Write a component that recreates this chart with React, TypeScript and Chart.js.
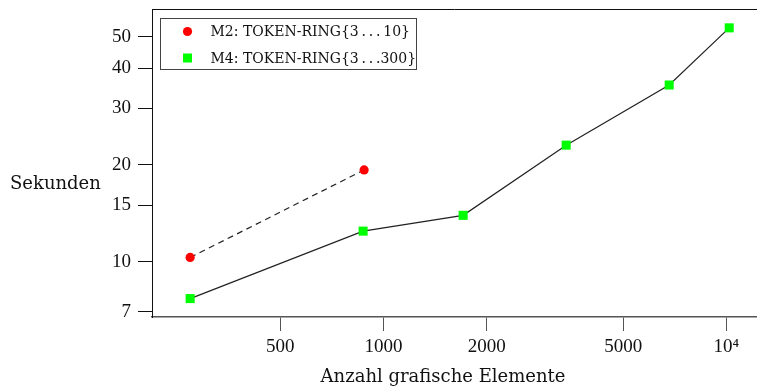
import { useEffect, useRef } from 'react';
import { Chart, registerables } from 'chart.js';

Chart.register(...registerables);

// ---- data ----
const m2Elements = [273, 878];
const m2Seconds = [10.32, 19.31];
const m4Elements = [273, 872, 1707, 3410, 6810, 10190];
const m4Seconds = [7.69, 12.46, 13.95, 23.05, 35.44, 53.35];

const xTickValues = [500, 1000, 2000, 5000, 10000];
const xTickLabels = ['500', '1000', '2000', '5000', '10\u2074'];
const yTickValues = [7, 10, 15, 20, 30, 40, 50];
const yTickLabels = ['7', '10', '15', '20', '30', '40', '50'];

const seriesLabels = [
  'M2: TOKEN-RING{3\u2009.\u2009.\u2009.\u200910}',
  'M4: TOKEN-RING{3\u2009.\u2009.\u2009.300}',
];
const xTitle = 'Anzahl grafische Elemente';
const yTitle = 'Sekunden';

const FONT = "'DejaVu Serif', serif";
const TICK_FONT = "'Liberation Serif', serif";

const framePlugin = {
  id: 'framePlugin',
  afterDraw(chart: any) {
    const { ctx, chartArea } = chart;
    ctx.save();
    // top frame line
    ctx.strokeStyle = '#111';
    ctx.lineWidth = 1;
    ctx.beginPath();
    const ty = Math.round(chartArea.top) + 0.5;
    ctx.moveTo(chartArea.left, ty);
    ctx.lineTo(chart.width, ty);
    ctx.stroke();

    // legend box
    const bx = Math.round(chartArea.left) + 8.5;
    const by = Math.round(chartArea.top) + 9.5;
    const bw = 256;
    const bh = 51;
    ctx.fillStyle = '#fff';
    ctx.fillRect(bx, by, bw, bh);
    ctx.strokeStyle = '#444';
    ctx.lineWidth = 1;
    ctx.strokeRect(bx, by, bw, bh);

    ctx.font = `14px ${FONT}`;
    ctx.textBaseline = 'middle';
    ctx.textAlign = 'left';
    chart.data.datasets.forEach((ds: any, i: number) => {
      const cy = by + 13 + i * 26.5;
      const cx = bx + 27;
      ctx.fillStyle = ds.pointBackgroundColor;
      if (ds.pointStyle === 'rect') {
        ctx.fillRect(cx - 4.5, cy - 4.5, 9, 9);
      } else {
        ctx.beginPath();
        ctx.arc(cx, cy, 4.6, 0, Math.PI * 2);
        ctx.fill();
      }
      ctx.fillStyle = '#111';
      ctx.fillText(ds.label, bx + 50, cy + 1);
    });

    // axis titles
    ctx.font = `18px ${FONT}`;
    ctx.fillStyle = '#111';
    ctx.textBaseline = 'alphabetic';
    ctx.textAlign = 'left';
    ctx.fillText(yTitle, 10, 189);
    ctx.textAlign = 'center';
    ctx.fillText(xTitle, 443, 382);
    ctx.restore();
  },
};

export default function App() {
  const canvasRef = useRef<HTMLCanvasElement | null>(null);

  useEffect(() => {
    document.body.style.margin = '0';
    const canvas = canvasRef.current;
    if (!canvas) return;
    const chart = new Chart(canvas, {
      type: 'line',
      data: {
        datasets: [
          {
            label: seriesLabels[0],
            data: m2Elements.map((x, i) => ({ x, y: m2Seconds[i] })),
            borderColor: '#222',
            borderWidth: 1.2,
            borderDash: [6, 4.5],
            pointStyle: 'circle',
            pointRadius: 4.6,
            pointBorderWidth: 0,
            pointBackgroundColor: '#ff0000',
            pointBorderColor: '#ff0000',
            fill: false,
            tension: 0,
          } as any,
          {
            label: seriesLabels[1],
            data: m4Elements.map((x, i) => ({ x, y: m4Seconds[i] })),
            borderColor: '#222',
            borderWidth: 1.2,
            pointStyle: 'rect',
            pointRadius: 6.4,
            pointBorderWidth: 0,
            pointBackgroundColor: '#00ff00',
            pointBorderColor: '#00ff00',
            fill: false,
            tension: 0,
          } as any,
        ],
      },
      options: {
        animation: false,
        responsive: false,
        maintainAspectRatio: false,
        layout: { autoPadding: false, padding: { top: 9, left: 0, right: 0, bottom: 0 } },
        plugins: {
          legend: { display: false },
          tooltip: { enabled: false },
        },
        scales: {
          x: {
            type: 'logarithmic',
            min: 211.3,
            max: 12280,
            afterBuildTicks: (scale: any) => {
              scale.ticks = xTickValues.map((v) => ({ value: v }));
            },
            afterFit: (scale: any) => {
              scale.height = 70;
              scale.paddingLeft = 0;
              scale.paddingRight = 0;
            },
            ticks: {
              autoSkip: false,
              maxRotation: 0,
              padding: 5,
              color: '#111',
              font: { family: TICK_FONT, size: 19 },
              callback: (value: any) => {
                const i = xTickValues.indexOf(Number(value));
                return i >= 0 ? xTickLabels[i] : '';
              },
            },
            grid: {
              display: true,
              drawOnChartArea: false,
              drawTicks: true,
              tickLength: 14,
              color: '#555',
              lineWidth: 1,
            },
            border: { display: true, color: '#555', width: 1.5 },
          },
          y: {
            type: 'logarithmic',
            min: 6.74,
            max: 61.05,
            afterBuildTicks: (scale: any) => {
              scale.ticks = yTickValues.map((v) => ({ value: v }));
            },
            afterFit: (scale: any) => {
              scale.width = 152;
              scale.paddingTop = 0;
              scale.paddingBottom = 0;
            },
            ticks: {
              autoSkip: false,
              padding: 7,
              color: '#111',
              font: { family: TICK_FONT, size: 19 },
              callback: (value: any) => {
                const i = yTickValues.indexOf(Number(value));
                return i >= 0 ? yTickLabels[i] : '';
              },
            },
            grid: {
              display: true,
              drawOnChartArea: false,
              drawTicks: true,
              tickLength: 14,
              color: '#111',
              lineWidth: 1,
            },
            border: { display: true, color: '#111', width: 1 },
          },
        },
      },
      plugins: [framePlugin],
    } as any);
    return () => chart.destroy();
  }, []);

  return (
    <div style={{ position: 'absolute', left: 0, top: 0, width: 757, height: 387 }}>
      <canvas ref={canvasRef} width={757} height={387} style={{ display: 'block' }} />
    </div>
  );
}
